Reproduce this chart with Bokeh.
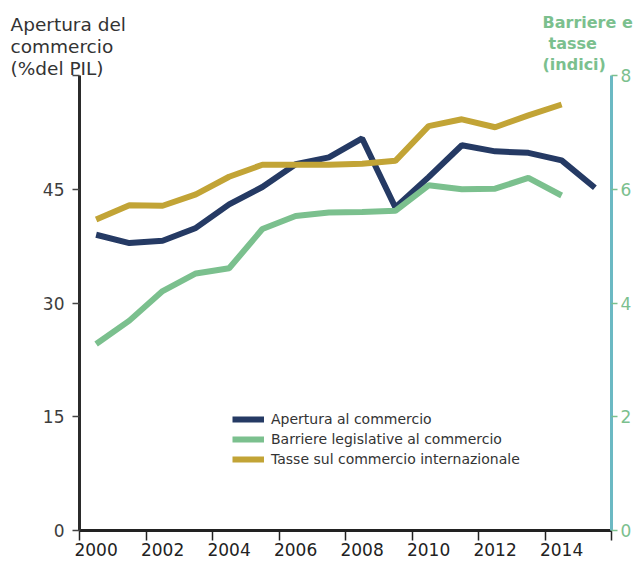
from bokeh.plotting import figure
from bokeh.models import (Range1d, LinearAxis, FixedTicker, Label, Legend, LegendItem)
from bokeh.embed import file_html
from bokeh.resources import INLINE

# ---------------- data ----------------
years = list(range(2000, 2016))
apertura = [39.0, 37.9, 38.2, 39.9, 43.0, 45.3, 48.3, 49.2, 51.7, 42.6,
            46.6, 50.8, 50.0, 49.8, 48.8, 45.2]
years_idx = list(range(2000, 2015))
barriere = [3.28, 3.69, 4.21, 4.52, 4.61, 5.30, 5.53, 5.59, 5.60, 5.62,
            6.07, 6.00, 6.01, 6.20, 5.89]
tasse = [5.47, 5.72, 5.71, 5.91, 6.22, 6.43, 6.43, 6.43, 6.45, 6.50,
         7.11, 7.23, 7.09, 7.30, 7.49]

x_ticks = list(range(2000, 2017, 2))
x_labels = ["2000", "2002", "2004", "2006", "2008", "2010", "2012", "2014"]
left_ticks = [0, 15, 30, 45]
left_top_tick = [60]
right_ticks = [0, 2, 4, 6, 8]

names = ["Apertura al commercio", "Barriere legislative al commercio",
         "Tasse sul commercio internazionale"]
left_title = ["Apertura del", "commercio", "(%del PIL)"]
right_title = ["Barriere e", "tasse", "(indici)"]

C_BLUE = "#253a64"
C_GREEN = "#7bc08e"
C_GOLD = "#c2a436"
C_TEAL = "#6bb9c3"
FONT = "DejaVu Sans"

# ---------------- layout (pixels of the canvas) ----------------
W, H = 637, 563
PX_L, PX_R, PX_T, PX_B = 79, 611, 75, 530   # plot area of the axes
X0, X1 = 2000, 2016
YL0, YL1 = 0, 60
YR0, YR1 = 0, 8

kx = (X1 - X0) / (PX_R - PX_L)
kl = (YL1 - YL0) / (PX_B - PX_T)
kr = (YR1 - YR0) / (PX_B - PX_T)

x_range = Range1d(X0 - PX_L * kx, X1 + (W - PX_R) * kx)
y_range = Range1d(YL0 - (H - PX_B) * kl, YL1 + PX_T * kl)
r_range = Range1d(YR0 - (H - PX_B) * kr, YR1 + PX_T * kr)


def dx(px):
    return x_range.start + px * kx


def dy(py):
    return y_range.end - py * kl


p = figure(width=W, height=H, output_backend="svg", toolbar_location=None,
           x_range=x_range, y_range=y_range, min_border=0)
p.title.visible = False
p.outline_line_color = None
p.xgrid.visible = False
p.ygrid.visible = False
p.background_fill_color = "white"
p.border_fill_color = "white"
p.extra_y_ranges = {"r": r_range}

# points centred in each year
xa = [y + 0.5 for y in years]
xb = [y + 0.5 for y in years_idx]

r_ap = p.line(xa, apertura, line_color=C_BLUE, line_width=6)
r_ba = p.line(xb, barriere, line_color=C_GREEN, line_width=6, y_range_name="r")
r_ta = p.line(xb, tasse, line_color=C_GOLD, line_width=6, y_range_name="r")

# x axis: labels centred in the labelled years (major ticks, invisible),
# tick marks at the year boundaries (minor ticks)
lab_pos = [int(s) + 0.5 for s in x_labels]
xax = p.xaxis[0]
xax.fixed_location = YL0
xax.bounds = (X0, X1)
xax.ticker = FixedTicker(ticks=lab_pos, minor_ticks=x_ticks)
xax.major_label_overrides = {v: s for v, s in zip(lab_pos, x_labels)}
xax.major_label_text_font = FONT
xax.major_label_text_font_size = "17px"
xax.major_label_text_color = "#222222"
xax.major_label_standoff = 2
xax.axis_line_width = 3
xax.axis_line_color = "#222222"
xax.major_tick_line_color = None
xax.major_tick_out = 0
xax.major_tick_in = 0
xax.minor_tick_out = 10
xax.minor_tick_in = 0
xax.minor_tick_line_width = 1.5
xax.minor_tick_line_color = "#222222"

# left axis (the unlabelled top tick is a minor tick)
yax = p.yaxis[0]
yax.fixed_location = X0
yax.bounds = (YL0, YL1)
yax.ticker = FixedTicker(ticks=left_ticks, minor_ticks=left_top_tick)
yax.major_label_text_font = FONT
yax.major_label_text_font_size = "17px"
yax.major_label_text_color = "#3d3d3d"
yax.major_label_standoff = 8
yax.axis_line_width = 3
yax.axis_line_color = "#2b2b2b"
yax.major_tick_out = 7
yax.major_tick_in = 0
yax.major_tick_line_width = 1.5
yax.major_tick_line_color = "#444444"
yax.minor_tick_out = 7
yax.minor_tick_in = 0
yax.minor_tick_line_width = 1.5
yax.minor_tick_line_color = "#444444"

# right axis
rax = LinearAxis(y_range_name="r", ticker=FixedTicker(ticks=right_ticks),
                 fixed_location=X1, bounds=(YR0, YR1))
rax.major_label_text_font = FONT
rax.major_label_text_font_size = "17px"
rax.major_label_text_color = C_GREEN
rax.major_label_standoff = 3
rax.axis_line_width = 3
rax.axis_line_color = C_TEAL
rax.major_tick_out = 6
rax.major_tick_in = 0
rax.major_tick_line_width = 1.5
rax.major_tick_line_color = C_GREEN
rax.minor_tick_line_color = None
p.add_layout(rax, "right")

# legend (location: px from the left / bottom of the canvas-wide frame)
legend = Legend(items=[LegendItem(label=names[0], renderers=[r_ap]),
                       LegendItem(label=names[1], renderers=[r_ba]),
                       LegendItem(label=names[2], renderers=[r_ta])],
                location=(232, H - 467), border_line_color=None,
                background_fill_alpha=0, padding=0, margin=0, spacing=4,
                glyph_width=32, glyph_height=14, label_height=14,
                label_standoff=7, label_text_font=FONT,
                label_text_font_size="14px", label_text_color="#333333")
p.add_layout(legend, "center")

# titles
for txt, base in zip(left_title, [24, 46, 68]):
    p.add_layout(Label(x=dx(10), y=dy(base), text=txt, text_font=FONT,
                       text_font_size="18.5px", text_color="#333333",
                       text_baseline="alphabetic", text_align="left"))

for txt, xs, base in zip(right_title, [542, 548, 542], [22, 43, 64]):
    p.add_layout(Label(x=dx(xs), y=dy(base), text=txt, text_font=FONT,
                       text_font_size="16px", text_font_style="bold",
                       text_color=C_GREEN,
                       text_baseline="alphabetic", text_align="left"))

open("out.html", "w").write(file_html(p, INLINE))
